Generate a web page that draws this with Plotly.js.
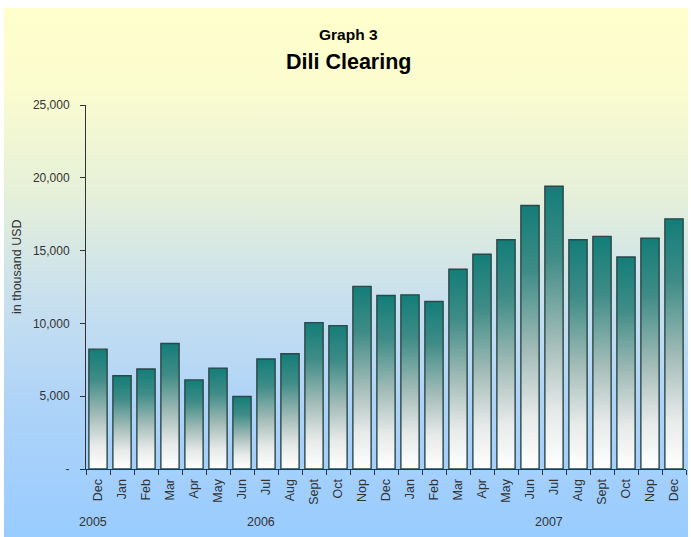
<!DOCTYPE html>
<html>
<head>
<meta charset="utf-8">
<script src="https://cdn.plot.ly/plotly-3.0.1.min.js"></script>
<style>
  html, body { margin: 0; padding: 0; background: #ffffff; }
  #wrap { position: relative; width: 691px; height: 537px; background: #ffffff; overflow: hidden; }
  #bg { position: absolute; left: 4px; top: 8px; width: 684px; height: 529px;
        background: linear-gradient(to bottom, #ffffcc 0%, #fbfccf 15%, #e6f0d9 35%, #c8e0ee 55%, #aed3f8 75%, #99ccff 100%); }
  #chart { position: absolute; left: 0; top: 0; width: 691px; height: 537px; }
</style>
</head>
<body>
<svg width="0" height="0" style="position:absolute">
  <defs>
    <linearGradient id="barGrad" x1="0" y1="0" x2="0" y2="1">
      <stop offset="0%" stop-color="#137d78"/>
      <stop offset="25%" stop-color="#3f8c87"/>
      <stop offset="55%" stop-color="#a3bcb8"/>
      <stop offset="80%" stop-color="#e6eae9"/>
      <stop offset="100%" stop-color="#ffffff"/>
    </linearGradient>
  </defs>
</svg>
<div id="wrap">
  <div id="bg"></div>
  <div id="chart"></div>
</div>
<script>
// Data
const categories = ["2005-12","2006-01","2006-02","2006-03","2006-04","2006-05","2006-06","2006-07","2006-08","2006-09","2006-10","2006-11","2006-12",
                    "2007-01","2007-02","2007-03","2007-04","2007-05","2007-06","2007-07","2007-08","2007-09","2007-10","2007-11","2007-12"];
const monthLabels = ["Dec","Jan","Feb","Mar","Apr","May","Jun","Jul","Aug","Sept","Oct","Nop","Dec",
                     "Jan","Feb","Mar","Apr","May","Jun","Jul","Aug","Sept","Oct","Nop","Dec"];
const clearingValues = [8230, 6400, 6870, 8620, 6120, 6930, 4980, 7560, 7920, 10050, 9850, 12540, 11920,
                        11960, 11500, 13720, 14750, 15750, 18100, 19420, 15750, 15980, 14560, 15860, 17180];
const yTickVals = [0, 5000, 10000, 15000, 20000, 25000];
const yTickText = ["-", "5,000", "10,000", "15,000", "20,000", "25,000"];
const yearLabels = ["2005", "2006", "2007"];
const yearAnchors = ["2005-12", "2006-07", "2007-07"];
const chartTitle = "Graph 3";
const chartSubtitle = "Dili Clearing";
const yTitle = "in thousand USD";

const fontFam = "'Liberation Sans', Arial, sans-serif";

const trace = {
  type: "bar",
  x: categories,
  y: clearingValues,
  marker: { color: "#4f9692", line: { color: "#2b4747", width: 1.4 } },
  width: 0.76,
  hoverinfo: "x+y"
};

const annotations = yearLabels.map((t, i) => ({
  text: t,
  x: yearAnchors[i],
  xref: "x",
  xshift: -5,
  y: -0.146,
  yref: "paper",
  yanchor: "middle",
  xanchor: "center",
  showarrow: false,
  font: { family: fontFam, size: 12.5, color: "#333333" }
}));
annotations.push({
  text: "<b>" + chartSubtitle + "</b>",
  xref: "paper", yref: "paper",
  x: 0.437, y: 1.118,
  xanchor: "center", yanchor: "middle",
  showarrow: false,
  font: { family: fontFam, size: 21.5, color: "#000000" }
});
annotations.push({
  text: yTitle,
  xref: "paper", yref: "paper",
  x: -0.115, y: 0.555,
  xanchor: "center", yanchor: "middle",
  textangle: -90,
  showarrow: false,
  font: { family: fontFam, size: 12.5, color: "#333333" }
});

const layout = {
  width: 691,
  height: 537,
  paper_bgcolor: "rgba(0,0,0,0)",
  plot_bgcolor: "rgba(0,0,0,0)",
  margin: { l: 86, r: 5, t: 105, b: 68 },
  showlegend: false,
  font: { family: fontFam, color: "#333333" },
  title: {
    text: "<b>" + chartTitle + "</b>",
    font: { family: fontFam, size: 15.5, color: "#000000" },
    x: 0.504, xanchor: "center",
    y: 0.935, yanchor: "middle"
  },
  xaxis: {
    type: "category",
    tickmode: "array",
    tickvals: categories,
    ticktext: monthLabels,
    tickangle: -90,
    tickson: "boundaries",
    ticks: "outside",
    ticklen: 5,
    tickcolor: "#333333",
    ticklabelstandoff: 4,
    tickfont: { family: fontFam, size: 12.5, color: "#333333" },
    showline: true,
    linecolor: "#333333",
    linewidth: 1,
    showgrid: false,
    zeroline: false,
    range: [-0.5, 24.5],
    fixedrange: true
  },
  yaxis: {
    range: [0, 25000],
    tickmode: "array",
    tickvals: yTickVals,
    ticktext: yTickText,
    ticks: "outside",
    ticklen: 5,
    tickcolor: "#333333",
    ticklabelstandoff: 8,
    tickfont: { family: fontFam, size: 12, color: "#333333" },
    showline: true,
    linecolor: "#333333",
    linewidth: 1,
    showgrid: false,
    zeroline: false,
    fixedrange: true
  },
  annotations: annotations
};

Plotly.newPlot("chart", [trace], layout, { displayModeBar: false, staticPlot: true }).then(function (gd) {
  gd.querySelectorAll(".barlayer .point path").forEach(function (p) {
    p.style.fill = "url(#barGrad)";
    p.style.fillOpacity = "1";
  });
});
</script>
</body>
</html>
